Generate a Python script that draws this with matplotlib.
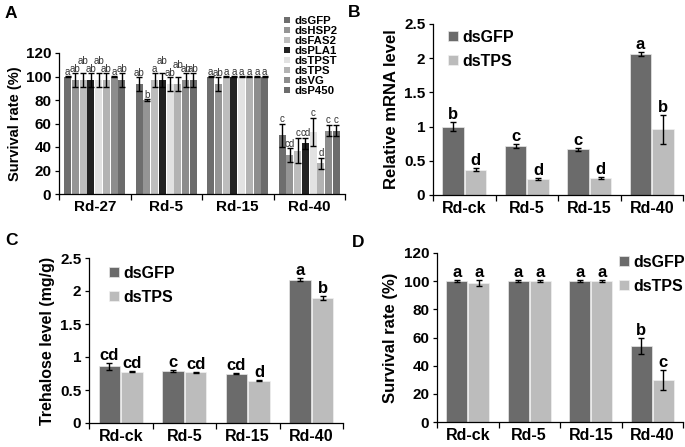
import numpy as np
import matplotlib
matplotlib.use("Agg")
import matplotlib.pyplot as plt

plt.rcParams['font.family'] = ['Liberation Sans', 'DejaVu Sans']
plt.rcParams['font.weight'] = 'bold'

# ---- panel A data ----
groups_a = ['Rd-27', 'Rd-5', 'Rd-15', 'Rd-40']
genes_a = ['dsGFP', 'dsHSP2', 'dsFAS2', 'dsPLA1', 'dsTPST', 'dsTPS', 'dsVG', 'dsP450']
surv_a = [
    [100, 96.7, 96.7, 96.7, 96.7, 96.7, 100, 96.7],
    [93.3, 80, 96.7, 96.7, 93.3, 93.3, 96.7, 96.7],
    [100, 93.3, 100, 100, 100, 100, 100, 100],
    [50, 33, 37, 43, 53, 26, 54, 54],
]
err_a = [
    [0.5, 6, 6, 6, 6, 6, 0.5, 6],
    [6, 0.5, 6, 6, 6, 6, 6, 6],
    [0.5, 6, 0.5, 0.5, 0.5, 0.5, 0.5, 0.5],
    [10, 6, 11, 5, 12, 5, 5, 5],
]
letters_a = [
    ['a', 'ab', 'ab', 'ab', 'ab', 'ab', 'a', 'ab'],
    ['ab', 'b', 'a', 'ab', 'ab', 'ab', 'ab', 'ab'],
    ['a', 'ab', 'a', 'a', 'a', 'a', 'a', 'a'],
    ['c', 'cd', 'c', 'cd', 'c', 'd', 'c', 'c'],
]
colors_a = ['#6e6e6e', '#959595', '#bdbdbd', '#222222', '#e2e2e2', '#b3b3b3', '#8d8d8d', '#6c6c6c']

# ---- panels B-D data ----
groups = ['Rd-ck', 'Rd-5', 'Rd-15', 'Rd-40']
series = ['dsGFP', 'dsTPS']
mrna_gfp = [1.00, 0.72, 0.67, 2.06]
mrna_gfp_err = [0.06, 0.03, 0.02, 0.03]
mrna_tps = [0.37, 0.24, 0.25, 0.96]
mrna_tps_err = [0.02, 0.015, 0.01, 0.21]
mrna_let = [['b', 'd'], ['c', 'd'], ['c', 'd'], ['a', 'b']]

tre_gfp = [0.86, 0.79, 0.75, 2.17]
tre_gfp_err = [0.05, 0.02, 0.01, 0.02]
tre_tps = [0.78, 0.77, 0.64, 1.90]
tre_tps_err = [0.01, 0.01, 0.01, 0.03]
tre_let = [['cd', 'cd'], ['c', 'cd'], ['cd', 'd'], ['a', 'b']]

surv_gfp = [100, 100, 100, 54]
surv_gfp_err = [0.5, 0.5, 0.5, 5.5]
surv_tps = [98.9, 100, 100, 30]
surv_tps_err = [2, 0.5, 0.5, 7]
surv_let = [['a', 'a'], ['a', 'a'], ['a', 'a'], ['b', 'c']]

DARK = '#6b6b6b'
LIGHT = '#bcbcbc'

W, H = 685, 447
fig = plt.figure(figsize=(W / 100, H / 100), dpi=100)


def px_axes(x0, y0, x1, y1):
    return fig.add_axes([x0 / W, 1 - y1 / H, (x1 - x0) / W, (y1 - y0) / H])


def style_axes(ax, labels, ticksize=11, xsize=11.5):
    for s in ['top', 'right']:
        ax.spines[s].set_visible(False)
    for s in ['left', 'bottom']:
        ax.spines[s].set_linewidth(0.9)
    ax.set_xlim(-0.5, len(labels) - 0.5)
    ax.set_xticks(range(len(labels)))
    ax.set_xticklabels(labels, fontsize=xsize, fontweight='bold')
    ax.tick_params(axis='x', length=0, pad=4)
    ax.set_xticks(np.arange(-0.5, len(labels)), minor=True)
    ax.tick_params(axis='x', which='minor', length=4, width=0.9)
    ax.tick_params(axis='y', length=3, width=0.9, labelsize=ticksize, pad=2.5)
    for t in ax.get_yticklabels():
        t.set_fontweight('bold')


def pair_panel(ax, g, ge, t, te, lets, ylim, yticks, ylabel, ysize=12):
    x = np.arange(len(groups))
    bw = 0.34
    ax.bar(x - 0.18, g, bw, color=DARK, edgecolor='#e8e8e8', linewidth=0.5,
           yerr=ge, capsize=2.5, error_kw=dict(elinewidth=1, capthick=1), label=series[0])
    ax.bar(x + 0.18, t, bw, color=LIGHT, edgecolor='#f0f0f0', linewidth=0.5,
           yerr=te, capsize=2.5, error_kw=dict(elinewidth=1, capthick=1), label=series[1])
    for i in range(len(groups)):
        ax.annotate(lets[i][0], (x[i] - 0.18, g[i] + ge[i]), xytext=(0, 0),
                    textcoords='offset points', ha='center', va='bottom', fontsize=12, fontweight='bold')
        ax.annotate(lets[i][1], (x[i] + 0.18, t[i] + te[i]), xytext=(0, 0),
                    textcoords='offset points', ha='center', va='bottom', fontsize=12, fontweight='bold')
    ax.set_ylim(*ylim)
    ax.set_yticks(yticks)
    ax.set_yticklabels(['%g' % v for v in yticks])
    style_axes(ax, groups)
    ax.set_ylabel(ylabel, fontsize=ysize, fontweight='bold', labelpad=4)


def pair_legend(ax, x, y):
    lg = ax.legend(loc='upper left', bbox_to_anchor=(x / W, 1 - y / H),
                   bbox_transform=fig.transFigure, frameon=False, fontsize=11.5,
                   handlelength=0.6, handleheight=0.6, handletextpad=0.3, labelspacing=0.55,
                   borderpad=0, borderaxespad=0)
    for t in lg.get_texts():
        t.set_fontweight('bold')


# ---- Panel A ----
axA = px_axes(59, 53, 345, 194)
xa = np.arange(len(groups_a))
bw_a = 0.108
raise_a = {0: [2, 4], 1: [3, 5]}
for j, gname in enumerate(genes_a):
    vals = [surv_a[i][j] for i in range(len(groups_a))]
    errs = [err_a[i][j] for i in range(len(groups_a))]
    pos = xa + (j - 3.5) * bw_a
    axA.bar(pos, vals, bw_a * 0.92, color=colors_a[j], linewidth=0,
            yerr=errs, capsize=2, error_kw=dict(elinewidth=1, capthick=1), label=gname)
    for i in range(len(groups_a)):
        extra = 5.5 if j in raise_a.get(i, []) else 0
        axA.annotate(letters_a[i][j], (pos[i], vals[i] + errs[i]), xytext=(0, extra - 0.5),
                     textcoords='offset points', ha='center', va='bottom', fontsize=7,
                     fontweight='normal', color='#333333')
axA.set_ylim(0, 120)
axA.set_yticks(range(0, 121, 20))
style_axes(axA, groups_a, ticksize=11, xsize=11)
axA.set_ylabel('Survival rate (%)', fontsize=10.5, fontweight='bold', labelpad=3)
legA = fig.legend(*axA.get_legend_handles_labels(), loc='upper left',
                  bbox_to_anchor=(284 / W, 1 - 16 / H), frameon=False, fontsize=8.2,
                  handlelength=0.55, handleheight=0.55, handletextpad=0.35, labelspacing=0.0,
                  borderpad=0, borderaxespad=0)
for t in legA.get_texts():
    t.set_fontweight('bold')

# ---- Panel B ----
axB = px_axes(433, 24, 683, 195)
pair_panel(axB, mrna_gfp, mrna_gfp_err, mrna_tps, mrna_tps_err, mrna_let,
           (0, 2.5), [0, 0.5, 1, 1.5, 2, 2.5], 'Relative mRNA level')
pair_legend(axB, 448, 30)

# ---- Panel C ----
axC = px_axes(89, 258, 343, 423)
pair_panel(axC, tre_gfp, tre_gfp_err, tre_tps, tre_tps_err, tre_let,
           (0, 2.5), [0, 0.5, 1, 1.5, 2, 2.5], 'Trehalose level (mg/g)', ysize=11.5)
pair_legend(axC, 109, 266)

# ---- Panel D ----
axD = px_axes(437, 253, 683, 422)
pair_panel(axD, surv_gfp, surv_gfp_err, surv_tps, surv_tps_err, surv_let,
           (0, 120), list(range(0, 121, 20)), 'Survival rate (%)')
pair_legend(axD, 619, 255)

# panel letters
for lab, (x, y) in zip('ABCD', [(5, 18), (348, 17), (5, 245), (352, 247)]):
    fig.text(x / W, 1 - y / H, lab, fontsize=12.5, fontweight='bold', va='baseline')

fig.savefig('out.png', dpi=100)
